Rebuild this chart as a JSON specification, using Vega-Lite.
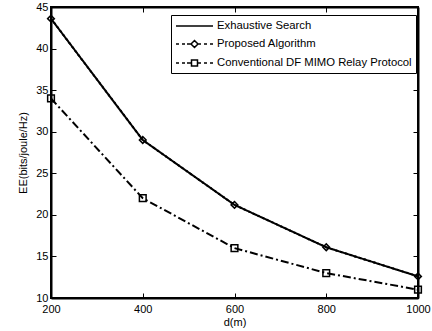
{
  "$schema": "https://vega.github.io/schema/vega-lite/v6.json",
  "width": 367,
  "height": 291,
  "autosize": "none",
  "padding": {"left": 51, "top": 7, "right": 14, "bottom": 33},
  "background": "white",
  "config": {
    "font": "Liberation Sans",
    "view": {"stroke": "black", "strokeWidth": 2},
    "axis": {
      "domainColor": "black", "domainWidth": 2, "tickColor": "black", "tickWidth": 1, "tickSize": -5,
      "labelColor": "black", "labelFontSize": 11, "titleColor": "black", "titleFontSize": 11,
      "titleFontWeight": "normal", "grid": false, "labelFont": "Liberation Sans", "titleFont": "Liberation Sans"
    }
  },
  "data": {
    "values": [
      {"series": "Exhaustive Search", "d": 200, "ee": 43.6},
      {"series": "Exhaustive Search", "d": 400, "ee": 29.0},
      {"series": "Exhaustive Search", "d": 600, "ee": 21.2},
      {"series": "Exhaustive Search", "d": 800, "ee": 16.1},
      {"series": "Exhaustive Search", "d": 1000, "ee": 12.6},
      {"series": "Proposed Algorithm", "d": 200, "ee": 43.6},
      {"series": "Proposed Algorithm", "d": 400, "ee": 29.0},
      {"series": "Proposed Algorithm", "d": 600, "ee": 21.2},
      {"series": "Proposed Algorithm", "d": 800, "ee": 16.1},
      {"series": "Proposed Algorithm", "d": 1000, "ee": 12.6},
      {"series": "Conventional DF MIMO Relay Protocol", "d": 200, "ee": 34.0},
      {"series": "Conventional DF MIMO Relay Protocol", "d": 400, "ee": 22.0},
      {"series": "Conventional DF MIMO Relay Protocol", "d": 600, "ee": 16.0},
      {"series": "Conventional DF MIMO Relay Protocol", "d": 800, "ee": 13.0},
      {"series": "Conventional DF MIMO Relay Protocol", "d": 1000, "ee": 11.0}
    ]
  },
  "layer": [
    {
      "mark": {"type": "line", "strokeWidth": 2, "color": "black"},
      "encoding": {
        "x": {"field": "d", "type": "quantitative", "scale": {"domain": [200, 1000], "nice": false},
              "axis": {"values": [200, 400, 600, 800, 1000], "format": "d", "labelFlush": false, "title": "d(m)", "labelPadding": 10, "titlePadding": 2}},
        "y": {"field": "ee", "type": "quantitative", "scale": {"domain": [10, 45], "nice": false, "zero": false},
              "axis": {"values": [10, 15, 20, 25, 30, 35, 40, 45], "labelFlush": false, "title": "EE(bits/joule/Hz)", "labelPadding": 8, "titleX": -28, "titleBaseline": "middle"}},
        "strokeDash": {
          "field": "series", "type": "nominal",
          "scale": {"domain": ["Exhaustive Search", "Proposed Algorithm", "Conventional DF MIMO Relay Protocol"],
                    "range": [[1, 0], [2, 3], [8, 3, 2, 3]]},
          "legend": null
        }
      }
    },
    {
      "mark": {"type": "point", "filled": false, "color": "black", "strokeWidth": 1.5, "opacity": 0},
      "encoding": {
        "x": {"field": "d", "type": "quantitative", "axis": null},
        "y": {"field": "ee", "type": "quantitative", "axis": null},
        "shape": {
          "field": "series", "type": "nominal",
          "scale": {"domain": ["Exhaustive Search", "Proposed Algorithm", "Conventional DF MIMO Relay Protocol"],
                    "range": [
                      "M-1,0H5.167",
                      "M-1,0H-0.5M0,0H0.5M0.833,0H1.5M1.5,0L2.083,-0.583L2.667,0L2.083,0.583ZM2.667,0H3.167M3.667,0H4.167M4.667,0H5.167",
                      "M-1,0H-0.5M0,0H0.5M0.833,0H1.583M1.583,-0.5H2.583V0.5H1.583ZM2.583,0H3.167M3.667,0H4.167M4.667,0H5.167"
                    ]},
          "legend": {
            "orient": "none", "legendX": 120, "legendY": 8, "title": null,
            "strokeColor": "black", "fillColor": "white", "padding": 4,
            "labelFontSize": 11.3, "labelColor": "black", "labelFont": "Liberation Sans", "labelLimit": 400,
            "symbolSize": 144, "symbolStrokeWidth": 1.5, "symbolOpacity": 1, "symbolStrokeColor": "black",
            "symbolFillColor": "transparent", "rowPadding": 5, "labelOffset": 28
          }
        },
        "size": {"value": 10}
      }
    },
    {
      "transform": [{"filter": "datum.series !== 'Exhaustive Search'"}],
      "mark": {"type": "point", "filled": false, "color": "black", "strokeWidth": 1.5, "opacity": 1},
      "encoding": {
        "x": {"field": "d", "type": "quantitative", "axis": {"orient": "top", "labels": false, "title": null, "values": [200, 400, 600, 800, 1000]}},
        "y": {"field": "ee", "type": "quantitative", "axis": {"orient": "right", "labels": false, "title": null, "values": [10, 15, 20, 25, 30, 35, 40, 45]}},
        "shape": {"field": "series", "type": "nominal",
                  "scale": {"domain": ["Proposed Algorithm", "Conventional DF MIMO Relay Protocol"], "range": ["diamond", "square"]},
                  "legend": null},
        "size": {"value": 45}
      }
    }
  ],
  "resolve": {"axis": {"x": "independent", "y": "independent"}, "scale": {"shape": "independent"}}
}
